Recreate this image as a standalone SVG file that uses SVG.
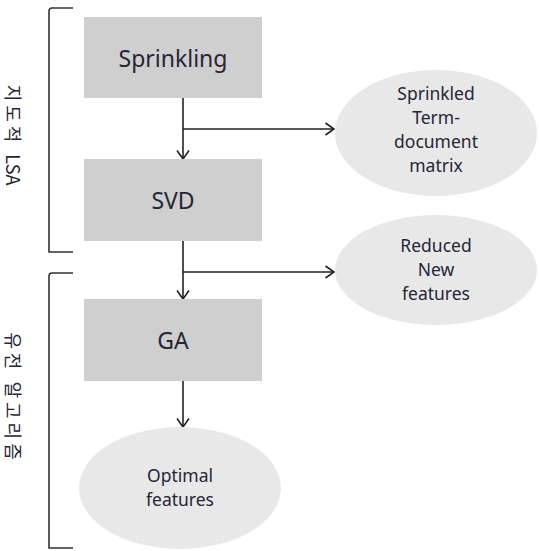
<svg xmlns="http://www.w3.org/2000/svg" width="539" height="551" viewBox="0 0 539 551">
<defs>
<style>
.box{fill:#cfcfcf;}
.ell{fill:#e8e8e8;}
.t{font-family:"Noto Sans","Open Sans",sans-serif;fill:#262636;text-anchor:middle;}
.big{font-size:23px;}
.sm{font-size:17.5px;}
.side{font-family:"Noto Sans CJK KR","Noto Sans",sans-serif;font-size:18px;fill:#262636;text-anchor:middle;}
.ko{letter-spacing:4px;}
.ln{stroke:#222;stroke-width:1.6;fill:none;}
.br{stroke:#333;stroke-width:1.6;fill:none;}
</style>
<marker id="arr" viewBox="0 0 10 14" refX="9.5" refY="7" markerWidth="10" markerHeight="14" markerUnits="userSpaceOnUse" orient="auto">
<path d="M1,1 L9.5,7 L1,13" fill="none" stroke="#222" stroke-width="1.6"/>
</marker>
</defs>
<rect width="539" height="551" fill="#ffffff"/>
<g id="bracket-lsa">
<path class="br" d="M73,8 H52 Q49,8 49,11 V252 H73"/>
<text class="side" transform="translate(12,135) rotate(90)" dy="6"><tspan class="ko">지도적 </tspan>LSA</text>
</g>
<g id="bracket-ga">
<path class="br" d="M73,273 H52 Q49,273 49,276 V548 H73"/>
<text class="side ko" transform="translate(12,398) rotate(90)" dy="6">유전 알고리즘</text>
</g>
<g id="connectors">
<path class="ln" d="M183,98 V159" marker-end="url(#arr)"/>
<path class="ln" d="M183,129 H334" marker-end="url(#arr)"/>
<path class="ln" d="M183,241 V299" marker-end="url(#arr)"/>
<path class="ln" d="M183,272 H334" marker-end="url(#arr)"/>
<path class="ln" d="M183,381 V427" marker-end="url(#arr)"/>
</g>
<g id="sprinkling">
<rect class="box" x="84" y="17" width="178" height="81"/>
<text class="t big" x="173" y="67">Sprinkling</text>
</g>
<g id="svd">
<rect class="box" x="84" y="159" width="178" height="82"/>
<text class="t big" x="173" y="209">SVD</text>
</g>
<g id="ga">
<rect class="box" x="84" y="299" width="178" height="82"/>
<text class="t big" x="173" y="349">GA</text>
</g>
<g id="sprinkled-matrix">
<ellipse class="ell" cx="436" cy="133" rx="101" ry="63"/>
<text class="t sm" x="436" y="100">Sprinkled</text>
<text class="t sm" x="436" y="124">Term-</text>
<text class="t sm" x="436" y="148">document</text>
<text class="t sm" x="436" y="172">matrix</text>
</g>
<g id="reduced-features">
<ellipse class="ell" cx="436" cy="270" rx="101" ry="55"/>
<text class="t sm" x="436" y="252">Reduced</text>
<text class="t sm" x="436" y="276">New</text>
<text class="t sm" x="436" y="300">features</text>
</g>
<g id="optimal-features">
<ellipse class="ell" cx="180" cy="488" rx="101" ry="61"/>
<text class="t sm" x="180" y="482">Optimal</text>
<text class="t sm" x="180" y="506">features</text>
</g>
</svg>
